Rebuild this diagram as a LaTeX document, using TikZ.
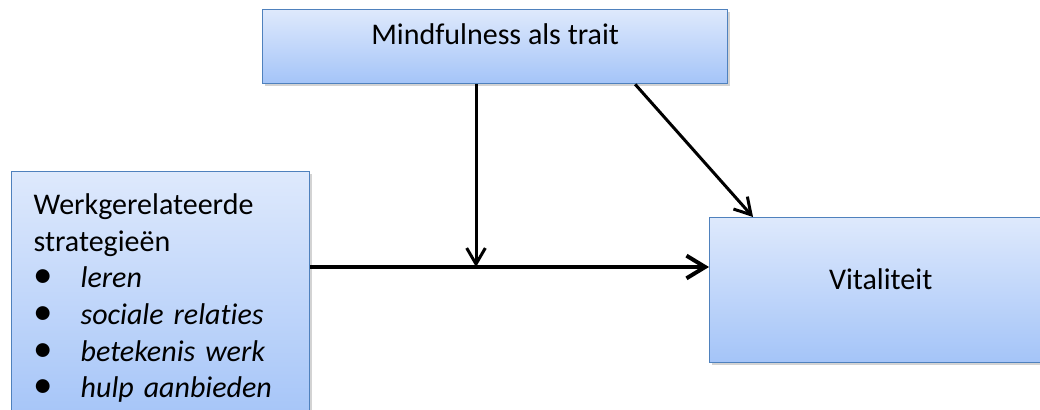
\documentclass[tikz,border=0pt]{standalone}
\usepackage{fontspec}
\setmainfont{Carlito}[Ligatures=NoCommon]
\usetikzlibrary{arrows.meta,shadows,calc}
\definecolor{boxtop}{RGB}{222,233,252}
\definecolor{boxbottom}{RGB}{164,196,248}
\definecolor{boxline}{RGB}{79,129,189}
\newcommand{\punt}[1]{\makebox[35.25pt][l]{\scalebox{1.3}{\textbullet}}\textit{#1}}

\begin{document}
\begin{tikzpicture}[x=0.75pt, y=-0.75pt,
    box/.style={draw=boxline, line width=1pt, top color=boxtop, bottom color=boxbottom, anchor=north west, inner ysep=0pt, font=\fontsize{22.5}{27.5}\selectfont, drop shadow={shadow xshift=2pt, shadow yshift=-2pt, opacity=0.35}},
    arrow/.style={-{Straight Barb[length=12pt, width=14pt]}, line width=2.25pt}
]
    \clip (0,0) rectangle (1040,410);
    \node[box, minimum width=348.75pt, text height=26.25pt, text depth=29.25pt] (mind) at (262,9) {Mindfulness als trait};
    \node[box, minimum width=223.5pt, text width=190.5pt, inner xsep=16.5pt, inner ysep=16.5pt, align=left] (strat) at (11,171)
        {Werkgerelateerde\\strategieën\\\punt{leren}\\\punt{sociale relaties}\\\punt{betekenis werk}\\\punt{hulp aanbieden}};
    \node[box, minimum width=256.5pt, text height=54pt, text depth=54.75pt] (vit) at (709,217) {Vitaliteit};

    % kruispunt van de moderator-pijl met de hoofdpijl
    \coordinate (kruis) at (476,267);
    \draw[arrow, line width=3pt, -{Straight Barb[length=14pt, width=17pt]}] (strat.east |- kruis) -- (vit.west |- kruis);
    \draw[arrow] (mind.south -| kruis) -- (kruis);
    \draw[arrow] ($(mind.south)+(140,0)$) -- ($(vit.north west)+(44,0)$);
\end{tikzpicture}
\end{document}
